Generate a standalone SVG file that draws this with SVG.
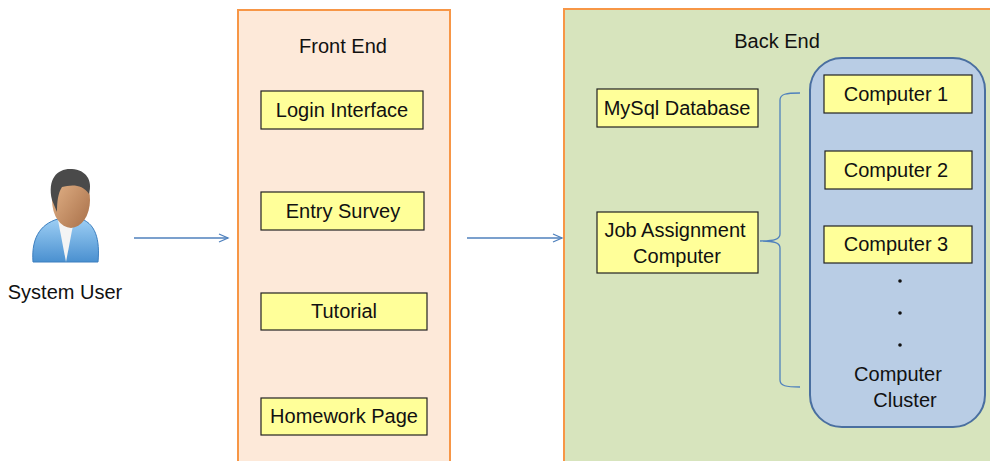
<svg xmlns="http://www.w3.org/2000/svg" width="990" height="461" viewBox="0 0 990 461">
<style>
text{font-family:"Liberation Sans",Arial,sans-serif;font-size:20px;fill:#111;text-anchor:middle}
.box{fill:#ffff99;stroke:#222;stroke-width:1.2}
.conn{stroke:#4f81bd;stroke-width:1.3;fill:none}
</style>
<defs>
<marker id="arr" markerWidth="12" markerHeight="12" refX="10" refY="5" orient="auto" markerUnits="userSpaceOnUse">
<path d="M1,1 L10,5 L1,9" fill="none" stroke="#4f81bd" stroke-width="1.3"/>
</marker>
<linearGradient id="skin" x1="0" y1="0" x2="1" y2="1">
<stop offset="0" stop-color="#e8b98e"/><stop offset="1" stop-color="#a86f48"/>
</linearGradient>
<linearGradient id="shirt" x1="0" y1="0" x2="0" y2="1">
<stop offset="0" stop-color="#9fd0f5"/><stop offset="1" stop-color="#4a90d0"/>
</linearGradient>
</defs>
<g id="user">
<path d="M33,262 C31,236 42,222 62,218 L78,218 C96,222 100,240 98,262 Z" fill="url(#shirt)" stroke="#3d7fbf" stroke-width="1"/>
<path d="M58,220 L66,262 L74,220 Z" fill="#f4f4f4"/>
<ellipse cx="71" cy="200" rx="19" ry="28" fill="url(#skin)"/>
<path d="M52,200 C47,178 58,168 72,169 C86,170 93,180 89,194 C82,183 70,185 62,187 C58,193 57,202 57,212 Z" fill="#4a4a4a"/>
<text x="65" y="299">System User</text>
</g>
<g id="frontend">
<rect x="238" y="10" width="212" height="460" fill="#fde9d9" stroke="#f79646" stroke-width="2"/>
<text x="343" y="53">Front End</text>
</g>
<g id="login"><rect class="box" x="261" y="91" width="162" height="38"/><text x="342" y="117">Login Interface</text></g>
<g id="survey"><rect class="box" x="261" y="192" width="163" height="38"/><text x="343" y="218">Entry Survey</text></g>
<g id="tutorial"><rect class="box" x="261" y="293" width="166" height="37"/><text x="344" y="318">Tutorial</text></g>
<g id="homework"><rect class="box" x="261" y="398" width="166" height="37"/><text x="344" y="423">Homework Page</text></g>
<g id="backend">
<rect x="564" y="9" width="430" height="460" fill="#d7e4bd" stroke="#f79646" stroke-width="2"/>
<text x="777" y="48">Back End</text>
</g>
<g id="mysql"><rect class="box" x="597" y="89" width="161" height="38"/><text x="677" y="115">MySql Database</text></g>
<g id="jobassign"><rect class="box" x="597" y="212" width="161" height="61"/><text x="675" y="237">Job Assignment</text><text x="677" y="263">Computer</text></g>
<g id="cluster">
<rect x="810" y="58" width="175" height="369" rx="32" ry="32" fill="#b9cde5" stroke="#4a6fa0" stroke-width="2"/>
<circle cx="900" cy="281" r="1.8" fill="#111"/>
<circle cx="900" cy="313" r="1.8" fill="#111"/>
<circle cx="900" cy="345" r="1.8" fill="#111"/>
<text x="898" y="381">Computer</text>
<text x="905" y="407">Cluster</text>
</g>
<g id="computer1"><rect class="box" x="824" y="75" width="148" height="38"/><text x="896" y="101">Computer 1</text></g>
<g id="computer2"><rect class="box" x="825" y="151" width="147" height="38"/><text x="896" y="177">Computer 2</text></g>
<g id="computer3"><rect class="box" x="824" y="226" width="148" height="37"/><text x="896" y="251">Computer 3</text></g>
<g id="connectors">
<line class="conn" x1="134" y1="238" x2="228" y2="238" marker-end="url(#arr)"/>
<line class="conn" x1="467" y1="238" x2="562" y2="238" marker-end="url(#arr)"/>
<path class="conn" d="M800,93 C786,93 780,94 780,100 L780,234 C780,239 775,241 760,241 C775,241 780,243 780,248 L780,380 C780,386 786,387 800,387"/>
</g>
</svg>
